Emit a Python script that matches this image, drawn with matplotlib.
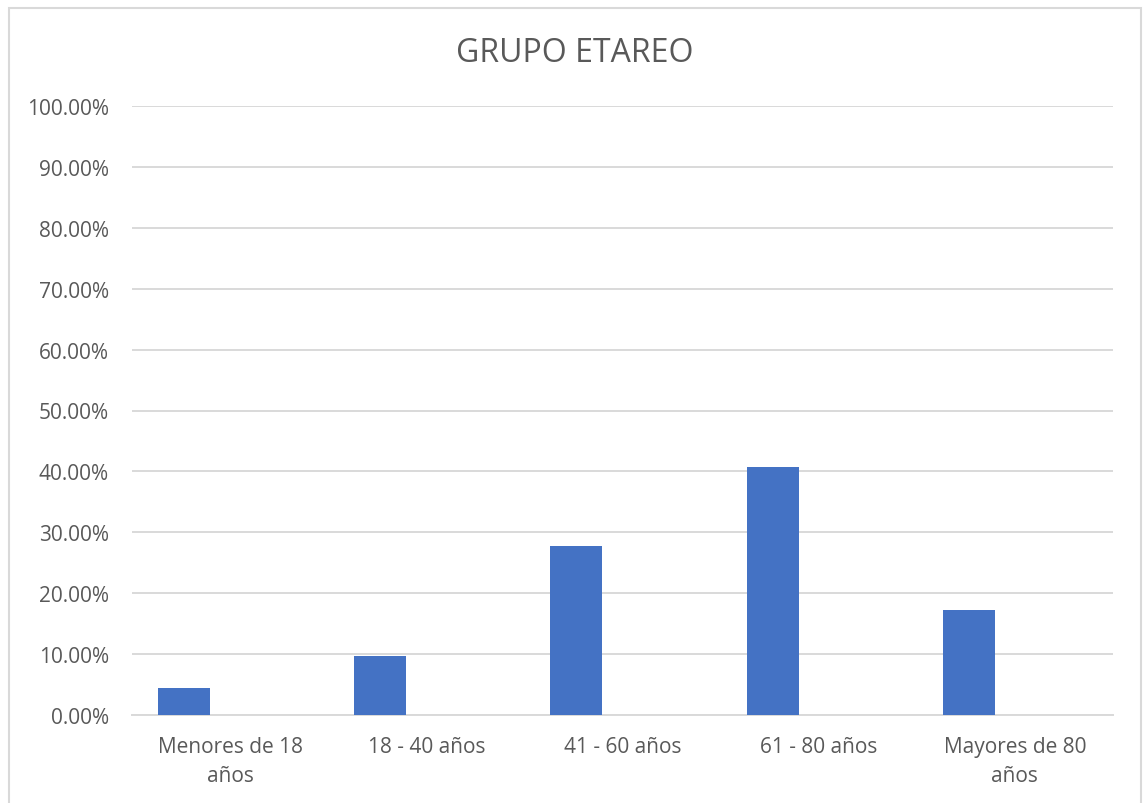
import matplotlib.pyplot as plt
import matplotlib.patches as patches
import numpy as np

plt.rcParams['font.family'] = ['Open Sans', 'DejaVu Sans']

# data
categories = ["Menores de 18\naños", "18 - 40 años", "41 - 60 años",
              "61 - 80 años", "Mayores de 80\naños"]
values = [0.0438, 0.0964, 0.2775, 0.408, 0.173]
y_ticks = [0.0, 0.1, 0.2, 0.3, 0.4, 0.5, 0.6, 0.7, 0.8, 0.9, 1.0]

text_color = "#595959"
grid_color = "#d9d9d9"
bar_color = "#4472c4"

fig = plt.figure(figsize=(11.43, 8.04), dpi=100)
W, H = 1143, 804
ax = fig.add_axes([132 / W, 1 - 716 / H, (1113 - 132) / W, (716 - 107) / H])

x = np.arange(len(categories))
ax.bar(x - 0.235, values, width=0.265, color=bar_color, zorder=3)

ax.set_xlim(-0.5, len(categories) - 0.5)
ax.set_ylim(0, 1.0)
ax.set_yticks(y_ticks)
ax.set_yticklabels([f"{v * 100:.2f}%" for v in y_ticks])
ax.set_xticks(x)
ax.set_xticklabels(categories, linespacing=1.5)

ax.tick_params(axis='both', length=0, labelsize=15, colors=text_color)
ax.tick_params(axis='y', pad=16.5)
ax.tick_params(axis='x', pad=15)
for lbl in ax.get_xticklabels():
    lbl.set_verticalalignment('top')

ax.grid(axis='y', color=grid_color, linewidth=1.4, zorder=0)
for side in ['top', 'right', 'left']:
    ax.spines[side].set_visible(False)
ax.spines['bottom'].set_color(grid_color)
ax.spines['bottom'].set_linewidth(1.4)

fig.text(575 / W, 1 - 53 / H, "GRUPO ETAREO", ha='center',
         va='center', fontsize=23, color=text_color)

# chart frame
frame = patches.Rectangle((8.5 / W, -0.1), (1141 - 8.5) / W, 1.1 - 8.5 / H,
                          transform=fig.transFigure, fill=False,
                          edgecolor=grid_color, linewidth=1.5)
fig.patches.append(frame)

fig.savefig("out.png", dpi=100)
